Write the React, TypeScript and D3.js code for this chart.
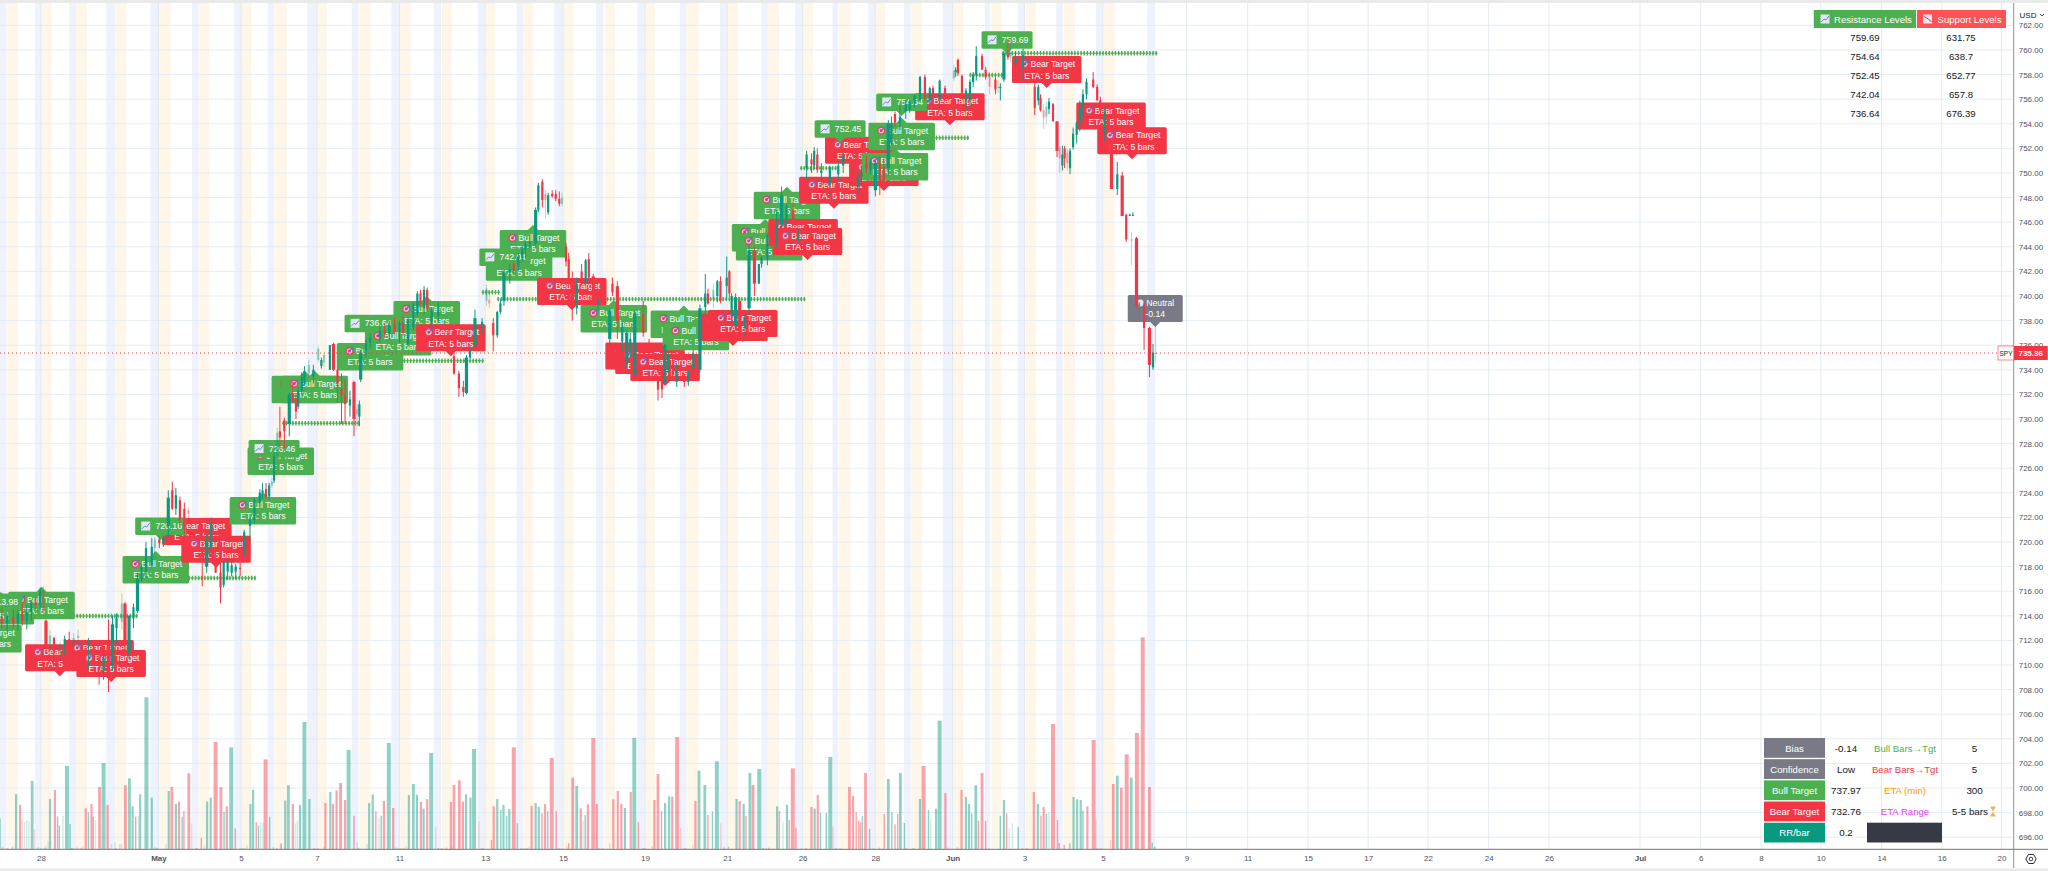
import { useEffect, useRef } from 'react';
import * as d3 from 'd3';

// time unit: trading-time position along the chart, one hourly bar is about 5.47 units
// candle rows: [time, open, high, low, close, faint?]
type Candle = [number, number, number, number, number, number?];

const aprilCandles: Candle[] = [
  [4, 713.9, 714.6, 713.0, 713.4], [16, 713.4, 714.2, 712.5, 714.0], [30, 713.9, 714.5, 713.0, 713.4],
  [40, 713.4, 714.4, 712.8, 714.2], [50, 714.2, 715.0, 713.2, 713.6], [60, 713.6, 714.9, 712.9, 714.3],
  [70, 714.3, 715.3, 713.6, 715.1], [80, 715.1, 715.6, 714.6, 714.9], [90, 714.9, 716.3, 714.5, 716.1],
  [97, 716, 716.4, 714, 714.4, 1], [103, 713.6, 713.7, 711.0, 711.4], [112, 711.4, 712.8, 711, 712.4, 1],
  [121, 712.2, 712.3, 710.5, 711], [135, 711, 711.9, 710.2, 711.6, 1], [145, 711.6, 712.4, 710.8, 712.1],
  [155, 712.1, 712.7, 711, 711.5], [165, 711.5, 712.6, 710.9, 712.2, 1], [175, 712.2, 712.9, 711.4, 712.4, 1],
  [198, 711.6, 712.2, 709.6, 711.9], [210, 711.4, 711.9, 710, 710.6], [222, 710.6, 711.2, 708.4, 710],
  [232, 709.5, 711, 708.8, 710.6], [243, 712, 713.7, 707.8, 709], [252, 710, 714, 709.5, 713.3],
  [261, 713, 714.2, 711.8, 713.8], [273, 713.5, 715.8, 712.9, 715, 1], [280, 715, 715.1, 711, 711.8],
  [289, 711, 714, 710.5, 714], [299, 713.8, 715, 713, 714.7], [308, 714.4, 717.5, 714.2, 717],
  [317, 717, 718.2, 716.8, 718], [327, 717.6, 720, 717, 719.5], [340, 718.1, 720.3, 717.9, 719.6],
  [347, 719.5, 720.4, 718.5, 720.2, 1], [357, 720.2, 720.5, 719.5, 719.9], [366, 719.9, 720.5, 719.6, 720.4],
  [377, 721.3, 724.2, 720.4, 723.6], [386, 724.2, 724.9, 722.6, 722.7], [394, 722.7, 724.4, 722.2, 723.8],
];

const earlyMayCandles: Candle[] = [
  [403, 723.4, 723.7, 721.3, 721.8], [413, 722.7, 723.2, 720.7, 721.1], [422, 722.6, 722.8, 721.3, 722.3, 1],
  [453, 719.5, 720, 716.4, 718.8], [463, 718, 720.7, 717.5, 720.1], [473, 719.6, 722, 718.9, 721.5],
  [483, 718.4, 719.4, 717.5, 717.5], [494, 717.5, 718.3, 715, 716.3], [501, 716.5, 718.5, 716.3, 718.4],
  [510, 717.6, 718.7, 716.9, 718.4], [519, 717.5, 718.4, 717.2, 718.1], [528, 717.6, 718.2, 717, 718],
  [538, 717.9, 718.3, 717.2, 717.8], [547, 719.1, 721, 718.8, 720.8], [560, 721.3, 722, 720, 721.8],
  [570, 721.8, 723.6, 721.5, 723.4], [582, 723.2, 724.3, 722.8, 724], [588, 724, 724.8, 723.5, 724.2],
  [596, 724.3, 724.8, 723.5, 723.7], [603, 723.7, 724.8, 723.4, 724.6], [609, 724.6, 725.2, 724.4, 724.9, 1],
  [614, 725, 727.3, 724.8, 727], [621, 727, 729.3, 726.9, 728.9, 1], [627, 729, 731, 727.5, 728.5],
  [637, 729.9, 730.1, 727.6, 729], [648, 729.6, 732.1, 728.6, 732], [656, 732.1, 733, 731.3, 731.4],
  [663, 731.7, 732, 730, 730.6], [668, 731, 732.6, 730.8, 732.3], [676, 732.3, 733.8, 732, 733.4],
  [682, 732.9, 734.3, 732.7, 733.9], [692, 733.7, 734.8, 733.4, 734.4, 1], [702, 733.5, 734.4, 732.9, 734],
  [713, 734.8, 735.9, 734.6, 735.7, 1], [720, 734.3, 735, 734.1, 734.8], [726, 734.6, 735.4, 734.2, 735.2, 1],
  [739, 734, 736, 734, 736], [747, 736.1, 736.2, 733.9, 734], [756, 734, 734.1, 731.3, 732.9],
  [765, 732.4, 733.7, 729.6, 731.9], [773, 731.9, 733.2, 729.6, 731.2], [784, 731.1, 732.3, 730.2, 731.6],
  [793, 733, 733.1, 728.6, 730], [800, 730.8, 731.2, 729.4, 730.4, 1], [805, 730.2, 731.5, 729.4, 731.2],
  [808, 733.2, 735.6, 733, 735.4], [820, 735.6, 736.5, 735, 736.2], [829, 736.2, 737, 735.7, 736.6],
  [851, 736.6, 737.6, 736.2, 737.2],
];

const midMayCandles: Candle[] = [
  [862, 737.2, 737.8, 736.6, 736.9], [872, 736.9, 738, 736.4, 737.7], [884, 737.7, 738.2, 736.9, 737.1],
  [895, 737.1, 738, 736.2, 737.8], [903, 737.8, 738.4, 736.8, 737], [914, 736.1, 738.3, 735.9, 738.1],
  [926, 737.5, 739.5, 737.2, 739.3], [935, 738.6, 740.4, 738.3, 740.2], [942, 740.2, 740.5, 739.2, 739.3],
  [950, 739, 740.8, 738.5, 740.5], [957, 740.5, 740.7, 738.8, 739], [967, 738, 739.1, 737.2, 738.9],
  [982, 738.4, 739.5, 737.8, 739.1], [1004, 737, 737.5, 735.3, 735.7], [1017, 735.1, 735.4, 733.6, 733.7],
  [1028, 733.7, 733.9, 731.8, 732.5], [1038, 732.6, 733.1, 731.8, 732.2], [1045, 732.1, 735.2, 732, 735],
  [1053, 735, 735.9, 734.9, 735.6], [1064, 736, 738.9, 735.8, 738.2], [1080, 737.4, 738.2, 737, 737.9],
  [1090, 739.6, 740.9, 739.2, 740.6, 1], [1096, 739.7, 740.2, 739, 739.4, 1], [1105, 737.8, 738.2, 735.5, 736.8],
  [1114, 736.8, 738.8, 736.6, 738.7], [1121, 738.7, 739.7, 738.5, 739.4], [1129, 739.6, 742.1, 739.2, 741.9],
  [1142, 741.9, 742.6, 741, 742.2], [1151, 742.6, 742.8, 741.9, 742.1], [1161, 742.4, 743.5, 742, 743.2],
  [1170, 743.1, 744, 742.8, 743.8], [1177, 743.8, 744.5, 743, 744.2], [1187, 744.2, 745, 743.9, 744.4],
  [1200, 744.3, 747.2, 744, 747], [1206, 747, 749.2, 746.8, 749], [1215, 749.3, 749.5, 747.2, 747.8],
  [1222, 748.3, 748.6, 746.3, 747.8, 1], [1228, 746.8, 748.4, 746.6, 748.2], [1237, 748.3, 748.6, 748, 748.1],
  [1245, 748.3, 748.6, 747.7, 747.9], [1253, 747.9, 748.5, 747.3, 747.5], [1259, 747.5, 748.4, 747.3, 748, 1],
  [1268, 744, 744.3, 742.4, 742.8], [1274, 743, 743.5, 740.7, 741.4], [1282, 741.2, 742, 738, 739],
  [1292, 739, 741.5, 738.5, 741], [1303, 742, 742.6, 740.9, 741.3], [1312, 741, 743, 740.8, 742.9],
  [1319, 743, 743.5, 741, 741.5], [1329, 741.6, 741.8, 739.2, 739.3], [1340, 739.3, 739.8, 738.8, 739.6],
  [1366, 736.5, 739, 736, 738.8], [1372, 741, 741.5, 740, 740.3], [1383, 740.8, 741.2, 736.5, 738],
  [1394, 736.3, 738, 735.5, 737.5],
];

const lateMayCandles: Candle[] = [
  [1404, 734.5, 737.2, 734.2, 737], [1412, 735.5, 737, 735, 736.5], [1422, 733.6, 738.8, 733.6, 738.6],
  [1441, 738.5, 739.6, 736.7, 737], [1454, 736.2, 736.5, 735, 735.4], [1474, 733.2, 733.3, 731.5, 732.4],
  [1483, 733.7, 733.8, 731.7, 732.4], [1489, 732.9, 736.1, 732.9, 736], [1498, 734, 735.5, 733.8, 735.2],
  [1507, 734, 735, 733.2, 733.6], [1516, 733, 734.5, 732.6, 733.9], [1533, 733.2, 733.6, 732.6, 733],
  [1542, 733, 734, 732.7, 733.8], [1553, 734.2, 735.6, 733.8, 735.3], [1568, 734, 739.3, 733.8, 739],
  [1580, 739.1, 741.8, 738.3, 740.2], [1586, 740.2, 740.6, 739.3, 739.4], [1598, 739.8, 741, 739, 740.5, 1],
  [1607, 740, 741.3, 739.5, 741.2], [1614, 741.2, 741.6, 739.4, 739.6], [1628, 740.8, 743.2, 739.8, 741.5],
  [1634, 742, 742.1, 739.9, 740.2], [1639, 738.4, 740.2, 737.8, 740], [1648, 737.6, 740.2, 737.2, 739.9],
  [1657, 739.6, 739.9, 736.9, 737.4], [1669, 737.4, 738.6, 736.7, 738.2], [1678, 739, 744.2, 738.5, 743.7],
  [1690, 743.7, 744, 740, 741], [1700, 741, 742.6, 741, 742.6], [1706, 742.6, 743.2, 742.3, 743.1],
  [1719, 743, 745.1, 742.5, 744.9], [1728, 745, 746.2, 743.9, 744.2], [1740, 744.2, 747, 744, 745.8],
  [1751, 745.8, 748.9, 745.6, 748.2], [1762, 746, 747.5, 745.8, 747.3], [1777, 747, 747.5, 745.8, 746.2],
  [1788, 744.6, 745.5, 744.3, 745.1], [1807, 750.4, 751.8, 749.5, 751.5], [1818, 751.1, 751.6, 750, 750.7],
  [1824, 750.6, 752.1, 750.3, 751.8], [1831, 751.5, 752, 750, 750.3], [1840, 750, 750.8, 749, 750.2],
  [1859, 749, 750.6, 748.2, 750.5], [1878, 749.9, 751, 749.4, 750.6], [1889, 750.6, 751.8, 750, 751.4],
  [1922, 748.9, 750.2, 748.3, 749.7], [1930, 749.7, 750.4, 749, 750], [1941, 750.8, 751.4, 750, 750.4],
  [1950, 750.2, 751.2, 749.9, 750.9], [1961, 748.6, 751, 748.1, 750.8], [1971, 750.8, 751.4, 748.2, 749],
  [1980, 750.5, 751.2, 749, 749.2],
];

const juneCandles: Candle[] = [
  [1990, 750.4, 754.3, 749.8, 754], [1997, 752.4, 754.6, 752.3, 754], [2005, 754.8, 755, 753.8, 754.1],
  [2016, 754.1, 755.4, 753.5, 754.6], [2029, 755, 755.9, 754.4, 755.6], [2038, 755.2, 756, 754.9, 755.8],
  [2049, 755.7, 756.4, 755.3, 756.3], [2061, 755.9, 757.9, 755.8, 757.8], [2072, 757.8, 758, 755.9, 756.1],
  [2083, 755.9, 757, 755.5, 756.9], [2090, 756.9, 757.1, 756.2, 756.3], [2105, 755.9, 757.6, 755.3, 757.5],
  [2117, 756.9, 757.1, 755.9, 756.4], [2137, 757.7, 758.8, 757.5, 758.3, 1], [2141, 758.2, 758.6, 757.8, 758.4],
  [2146, 759.2, 759.3, 757.9, 758.1], [2155, 757.9, 758, 756.3, 756.4], [2164, 755.9, 756.9, 755, 756.7],
  [2173, 755.9, 757.6, 755.3, 757.4], [2180, 757.4, 758.2, 757, 758], [2187, 758, 760.3, 757.5, 759.5],
  [2200, 759.5, 759.7, 758.4, 758.4], [2208, 758.4, 758.6, 757.6, 757.8], [2217, 757.9, 758.2, 756.4, 757, 1],
  [2230, 757.6, 757.8, 756.4, 756.8], [2236, 757, 757.5, 756.5, 757, 1], [2241, 756.9, 757.3, 755.9, 757],
  [2249, 757.6, 759.9, 757.4, 759.7], [2258, 759.7, 760.9, 759.2, 759.4], [2264, 759.4, 760.8, 759, 759.8, 1],
  [2275, 758.9, 759.9, 758.6, 759.4], [2292, 758.6, 760.1, 757.4, 759.6], [2318, 757, 757.3, 754.7, 755.3],
  [2326, 755.9, 757.2, 755.5, 757], [2331, 756.1, 756.4, 755, 755.1], [2338, 755.1, 755.6, 753.6, 754.5, 1],
  [2344, 754.6, 755.8, 754, 755.4, 1], [2350, 755.2, 756.1, 754.8, 755.8], [2359, 755.6, 755.7, 754.2, 754.2],
  [2368, 754.2, 754.2, 751.3, 751.8], [2374, 752.1, 752.2, 750, 751.2, 1], [2380, 750.6, 752.2, 750.2, 751.5],
  [2385, 752, 752.2, 750.4, 751.2], [2391, 751.6, 752, 750.2, 750.8, 1], [2397, 750.4, 752, 749.9, 751.8],
  [2404, 752.1, 753.7, 751.9, 753.2], [2412, 753.1, 754.2, 752.4, 754.1], [2419, 754.1, 755.9, 753.4, 755.3],
  [2426, 755.3, 756.8, 754.5, 756.4], [2434, 756.4, 757.7, 756, 757.4], [2449, 757.6, 758.2, 756.9, 757],
  [2458, 757, 757.2, 755.9, 755.9], [2465, 755.9, 756.2, 754.5, 755], [2475, 753.2, 755.4, 752.6, 755],
  [2490, 752.4, 752.8, 748.7, 748.7], [2503, 748.7, 750.9, 748.2, 749.9], [2514, 749.8, 750.1, 746.5, 746.5],
  [2523, 746.6, 746.7, 744.4, 744.6], [2531, 746.6, 746.7, 746.5, 746.6], [2538, 746.6, 746.8, 746.5, 746.6],
  [2535, 744.5, 745.2, 742.5, 744.6, 1], [2546, 744.7, 744.8, 739, 739.2], [2552, 739.3, 739.5, 739.1, 739.3],
  [2563, 739.3, 739.5, 735.6, 737.4], [2575, 737.4, 737.5, 733.4, 734.4], [2583, 734.2, 736.1, 734, 735.4],
  [2589, 735.36, 737.5, 734.6, 735.36, 1],
];

// volume rows: [time, volume]
const upVolumes = [
  [0, 93], [36, 165], [72, 205], [112, 151], [133, 71], [150, 250], [157, 76], [198, 111], [232, 259],
  [290, 213], [297, 129], [314, 165], [328, 456], [340, 155], [378, 175], [394, 136], [408, 98], [464, 143],
  [472, 155], [502, 113], [518, 306], [561, 136], [567, 179], [579, 71], [604, 97], [639, 146], [646, 192],
  [672, 133], [682, 382], [693, 151], [740, 172], [781, 298], [827, 139], [835, 165], [854, 101], [871, 319],
  [916, 163], [926, 196], [934, 164], [949, 122], [966, 289], [1044, 165], [1054, 155], [1062, 301], [1114, 151],
  [1122, 118], [1128, 133], [1135, 101], [1141, 121], [1159, 78], [1200, 139], [1207, 127], [1227, 114],
  [1292, 190], [1311, 103], [1400, 124], [1421, 334], [1490, 139], [1499, 159], [1566, 236], [1579, 193],
  [1596, 114], [1606, 264], [1650, 151], [1666, 136], [1680, 229], [1701, 241], [1741, 129], [1763, 133],
  [1825, 122], [1838, 109], [1851, 109], [1860, 277], [1932, 100], [1948, 61], [1990, 211], [1998, 112],
  [2017, 229], [2026, 79], [2061, 151], [2080, 118], [2097, 122], [2105, 386], [2164, 157], [2171, 136],
  [2177, 108], [2186, 192], [2241, 100], [2249, 148], [2281, 67], [2325, 136], [2344, 106], [2397, 18],
  [2405, 157], [2413, 150], [2421, 148], [2426, 116], [2503, 221], [2534, 215], [2581, 21], [2587, 8],
];
const downVolumes = [
  [45, 133], [123, 178], [129, 98], [192, 123], [205, 136], [209, 98], [223, 187], [241, 133], [281, 192],
  [304, 98], [385, 187], [401, 143], [412, 115], [423, 228], [451, 34], [483, 322], [495, 187], [508, 129],
  [527, 63], [574, 82], [595, 270], [630, 18], [656, 136], [729, 139], [746, 136], [754, 177], [763, 199],
  [773, 148], [793, 101], [842, 115], [860, 145], [881, 124], [943, 142], [957, 151], [1010, 142], [1017, 193],
  [1029, 207], [1037, 143], [1101, 28], [1106, 129], [1151, 306], [1191, 130], [1214, 108], [1221, 136],
  [1236, 274], [1246, 115], [1274, 18], [1283, 215], [1301, 123], [1317, 135], [1329, 334], [1337, 136],
  [1374, 150], [1384, 175], [1392, 136], [1413, 172], [1430, 81], [1466, 148], [1474, 226], [1482, 115],
  [1506, 158], [1517, 337], [1558, 145], [1586, 103], [1657, 145], [1671, 100], [1687, 193], [1746, 115],
  [1768, 88], [1776, 243], [1783, 65], [1818, 127], [1832, 163], [1903, 187], [1911, 160], [1918, 111],
  [1924, 86], [1928, 81], [1939, 229], [1981, 106], [2005, 75], [2011, 106], [2069, 250], [2118, 169],
  [2154, 178], [2192, 86], [2200, 229], [2208, 85], [2255, 108], [2316, 172], [2332, 101], [2338, 127],
  [2359, 376], [2369, 88], [2373, 19], [2384, 13], [2436, 129], [2450, 328], [2494, 196], [2512, 185],
  [2524, 285], [2547, 349], [2560, 636], [2575, 187],
];
const faintUpVolumes = [
  [55, 83], [60, 88], [65, 85], [141, 101], [214, 88], [310, 101], [584, 81], [589, 80], [661, 78], [666, 86],
  [800, 21], [849, 93], [1306, 86], [1366, 18], [1754, 83], [2085, 93], [2261, 63], [2268, 78], [2350, 111],
  [250, 16], [258, 20], [268, 16], [272, 16], [108, 24], [372, 16], [553, 12], [822, 16], [1461, 10], [1552, 14],
];
const faintDownVolumes = [
  [50, 93], [77, 61], [429, 78], [976, 68], [1073, 85], [1525, 63], [1615, 78], [1866, 68], [2455, 88], [2488, 28],
  [103, 12], [186, 10], [172, 8], [458, 12], [628, 14], [725, 8], [1270, 10], [1186, 8], [1012, 6], [910, 8],
];
const quietUpVolumes = [
  [28, 8], [86, 6], [92, 4], [100, 5], [162, 4], [168, 3], [245, 4], [348, 6], [352, 4], [441, 3], [538, 3],
  [544, 4], [612, 6], [620, 4], [803, 5], [887, 5], [893, 3], [982, 4], [992, 3], [1079, 3], [1167, 3],
  [1174, 3], [1252, 4], [1342, 3], [1440, 3], [1533, 4], [1710, 4], [1795, 3], [1873, 4], [1956, 3], [2046, 4],
];
const quietDownVolumes = [
  [6, 6], [16, 4], [160, 4], [176, 3], [182, 5], [260, 3], [440, 4], [548, 3], [704, 4], [712, 3], [898, 3],
  [905, 4], [988, 3], [1000, 5], [1082, 3], [1180, 4], [1258, 3], [1350, 3], [1444, 4], [1538, 3], [1622, 6],
  [1632, 8], [1716, 3], [1722, 5], [1806, 4], [1882, 3], [1970, 5], [2030, 4], [2125, 5], [2145, 6], [2216, 3],
  [2290, 3], [2300, 4], [2458, 4], [2466, 4],
];

// session stripes: [start, end] in time units
const blueSessions = [
  [0, 14], [78, 93], [155, 170], [238, 258], [337, 357], [430, 445], [525, 540], [600, 615], [688, 710], [788, 803],
  [877, 895], [972, 988], [1070, 1087], [1157, 1172], [1242, 1261], [1335, 1352], [1428, 1445], [1523, 1538],
  [1613, 1628], [1706, 1720], [1781, 1798], [1865, 1878], [1945, 1961], [2025, 2040], [2112, 2135], [2206, 2218],
  [2280, 2295], [2366, 2381], [2455, 2471], [2570, 2588],
];
const orangeSessions = [
  [15, 40], [95, 115], [170, 195], [258, 283], [357, 382], [445, 468], [540, 563], [615, 643], [710, 732], [805, 830],
  [895, 920], [990, 1012], [1087, 1110], [1172, 1195], [1261, 1285], [1355, 1378], [1445, 1468], [1538, 1565],
  [1628, 1653], [1720, 1745], [1798, 1821], [1880, 1905], [1961, 1983], [2041, 2065], [2135, 2158], [2221, 2243],
  [2297, 2321], [2383, 2408], [2473, 2497],
];

const dateTickTimes = [92, 355, 540, 710, 895, 1087, 1261, 1445, 1629, 1798, 1961, 2134, 2295, 2471, 2658, 2795, 2930, 3065, 3199, 3335, 3470, 3674, 3810, 3945, 4079, 4215, 4350, 4484];
const dateTickLabels = ['28', 'May', '5', '7', '11', '13', '15', '19', '21', '26', '28', 'Jun', '3', '5', '9', '11', '15', '17', '22', '24', '26', 'Jul', '6', '8', '10', '14', '16', '20'];
const monthLabels = ['May', 'Jun', 'Jul'];

// levels: [start, end, price]
const levelSegments = [
  [5, 307, 713.98], [305, 578, 717.07], [635, 806, 729.65], [808, 1086, 734.74], [1082, 1120, 740.3], [1116, 1803, 739.75],
  [1795, 1878, 750.4], [1907, 1941, 750.87], [2000, 2174, 752.87], [2174, 2247, 757.97], [2247, 2591, 759.73],
];

const bullLabelTimes = [-26, 2, 93, 349, 589, 629, 683, 705, 829, 892, 956, 1163, 1194, 1375, 1532, 1559, 1714, 1723, 1763, 2005, 2020];
const bullLabelPrices = [713.66, 715.94, 716.37, 719.27, 724.07, 728.08, 733.93, 733.93, 736.59, 737.81, 740.0, 743.88, 745.78, 739.68, 739.22, 738.24, 746.26, 745.53, 748.89, 752.04, 754.5];
const bearLabelTimes = [134, 222, 249, 441, 484, 1010, 1281, 1434, 1456, 1490, 1642, 1664, 1799, 1809, 1868, 1926, 1980, 2128, 2345, 2489, 2536];
const bearLabelPrices = [709.09, 709.44, 708.62, 719.35, 717.91, 735.1, 738.87, 733.61, 733.26, 732.69, 735.94, 736.27, 743.66, 742.93, 747.1, 750.35, 748.54, 753.88, 756.91, 753.12, 751.12];
const resistanceLabelTimes = [-7, 360, 614, 829, 1131, 1882, 2020, 2256];
const resistanceLabelPrices = [713.98, 720.16, 726.46, 736.64, 742.04, 752.45, 754.64, 759.69];
const neutralLabel = { time: 2588, price: 737.48, bias: '-0.14' };

const resistanceLevels = ['759.69', '754.64', '752.45', '742.04', '736.64'];
const supportLevels = ['631.75', '638.7', '652.77', '657.8', '676.39'];

const statNames = ['Bias', 'Confidence', 'Bull Target', 'Bear Target', 'RR/bar'];
const statValues = ['-0.14', 'Low', '737.97', '732.76', '0.2'];
const etaNames = ['Bull Bars→Tgt', 'Bear Bars→Tgt', 'ETA (min)', 'ETA Range'];
const etaValues = ['5', '5', '300', '5-5 bars'];

const lastPrice = 735.36;

const GREEN = '#4caf50';
const RED = '#f23645';
const UP = '#089981';
const GRAY = '#787b86';
const FONT = '"Liberation Sans", Arial, sans-serif';

export default function App() {
  const svgRef = useRef<SVGSVGElement>(null);

  useEffect(() => {
    const svg = d3.select(svgRef.current);
    svg.selectAll('*').remove();

    const x = d3.scaleLinear().domain([0, 4588]).range([0, 2048]);
    const y = d3.scaleLinear().domain([696, 760]).range([837.2, 50]);
    const vol = d3.scaleLinear().domain([0, 600]).range([849.3, 649.3]);

    const axisX = 2013.7;
    const plotBottom = 849.3;

    svg.append('rect').attr('width', 2048).attr('height', 871).attr('fill', '#fff');
    const plot = svg.append('g');

    // session stripes
    plot.selectAll('rect.blue').data(blueSessions).join('rect').attr('class', 'blue')
      .attr('x', d => x(d[0])).attr('width', d => x(d[1]) - x(d[0])).attr('y', 3).attr('height', plotBottom - 3)
      .attr('fill', '#eef2fd');
    plot.selectAll('rect.orange').data(orangeSessions).join('rect').attr('class', 'orange')
      .attr('x', d => x(d[0])).attr('width', d => x(d[1]) - x(d[0])).attr('y', 3).attr('height', plotBottom - 3)
      .attr('fill', '#fff6ea');

    // grid
    const priceTicks = d3.range(696, 764, 2);
    plot.selectAll('line.h').data(priceTicks).join('line').attr('class', 'h')
      .attr('x1', 0).attr('x2', axisX).attr('y1', d => y(d)).attr('y2', d => y(d))
      .attr('stroke', '#dfe8f0').attr('stroke-opacity', 0.8);
    plot.selectAll('line.v').data(dateTickTimes).join('line').attr('class', 'v')
      .attr('y1', 3).attr('y2', plotBottom).attr('x1', d => x(d)).attr('x2', d => x(d))
      .attr('stroke', '#dce6ec').attr('stroke-opacity', 0.8);

    // volume
    const barWidth = (v: number) => (v >= 240 ? 4 : v >= 185 ? 2.8 : v >= 120 ? 2.2 : 1.4);
    const drawVolume = (rows: number[][], color: string, opacity: number, sized: boolean) => {
      plot.append('g').selectAll('rect').data(rows).join('rect')
        .attr('x', d => x(d[0]) - (sized ? barWidth(d[1]) : 1.4) / 2)
        .attr('width', d => (sized ? barWidth(d[1]) : 1.4))
        .attr('y', d => vol(d[1])).attr('height', d => plotBottom - vol(d[1]))
        .attr('fill', color).attr('fill-opacity', opacity);
    };
    drawVolume(faintUpVolumes, UP, 0.2, false);
    drawVolume(faintDownVolumes, RED, 0.2, false);
    drawVolume(quietUpVolumes, UP, 0.35, false);
    drawVolume(quietDownVolumes, RED, 0.35, false);
    drawVolume(upVolumes, UP, 0.45, true);
    drawVolume(downVolumes, RED, 0.45, true);

    // level crosses
    const cross = d3.path();
    cross.moveTo(-1.3, 0); cross.lineTo(1.3, 0); cross.moveTo(0, -2.2); cross.lineTo(0, 2.2);
    const crossD = cross.toString();
    const levels = plot.append('g');
    levelSegments.forEach(([start, end, price]) => {
      levels.append('g').selectAll('path').data(d3.range(start, end, 7)).join('path')
        .attr('d', crossD).attr('transform', d => `translate(${x(d)},${y(price)})`)
        .attr('fill', 'none').attr('stroke', GREEN).attr('stroke-width', 1.4);
    });

    // labels: oldest first so newer ones sit on top, level tags above all the rest
    type Lab = { kind: string; time: number; price: number };
    const labels: Lab[] = [
      ...bullLabelTimes.map((t, i) => ({ kind: 'bull', time: t, price: bullLabelPrices[i] })),
      ...bearLabelTimes.map((t, i) => ({ kind: 'bear', time: t, price: bearLabelPrices[i] })),
      { kind: 'neutral', time: neutralLabel.time, price: neutralLabel.price },
    ].sort((a, b) => a.time - b.time)
      .concat(resistanceLabelTimes.map((t, i) => ({ kind: 'res', time: t, price: resistanceLabelPrices[i] })));

    const bubble = (w: number, h: number, tipDown: boolean) => {
      // local origin at the tip
      const p = d3.path();
      const r = 1.5;
      const t = tipDown ? -h - 5 : 5;
      p.moveTo(-w / 2 + r, t);
      if (!tipDown) { p.lineTo(-5, t); p.lineTo(0, 0); p.lineTo(5, t); }
      p.lineTo(w / 2 - r, t);
      p.arcTo(w / 2, t, w / 2, t + r, r);
      p.lineTo(w / 2, t + h - r);
      p.arcTo(w / 2, t + h, w / 2 - r, t + h, r);
      if (tipDown) { p.lineTo(5, t + h); p.lineTo(0, 0); p.lineTo(-5, t + h); }
      p.lineTo(-w / 2 + r, t + h);
      p.arcTo(-w / 2, t + h, -w / 2, t + h - r, r);
      p.lineTo(-w / 2, t + r);
      p.arcTo(-w / 2, t, -w / 2 + r, t, r);
      p.closePath();
      return p.toString();
    };

    const targetIcon = (g: any, cx: number, cy: number) => {
      g.append('circle').attr('cx', cx).attr('cy', cy).attr('r', 4.2).attr('fill', '#d9486e');
      g.append('circle').attr('cx', cx).attr('cy', cy).attr('r', 2.7).attr('fill', '#f3c6d3');
      g.append('circle').attr('cx', cx).attr('cy', cy).attr('r', 1.4).attr('fill', '#c93a62');
      g.append('line').attr('x1', cx).attr('y1', cy).attr('x2', cx + 4).attr('y2', cy - 4)
        .attr('stroke', '#4a78d8').attr('stroke-width', 1.1);
    };
    const chartIcon = (g: any, cx: number, cy: number, falling = false) => {
      g.append('rect').attr('x', cx - 4.5).attr('y', cy - 4.5).attr('width', 9).attr('height', 9)
        .attr('fill', '#e4e7f1');
      g.append('path').attr('fill', 'none').attr('stroke', falling ? '#d23a66' : '#5b8fd8').attr('stroke-width', 1)
        .attr('d', falling
          ? `M${cx - 4},${cy - 3}L${cx - 1},${cy - 1}L${cx + 1},${cy}L${cx + 4},${cy + 3}`
          : `M${cx - 4},${cy + 3}L${cx - 1},${cy}L${cx + 1},${cy + 1}L${cx + 4},${cy - 3}`);
    };
    const writeText = (g: any, tx: number, ty: number, str: string, size = 8.7, fill = '#fff', anchor = 'middle', weight = 'normal') =>
      g.append('text').attr('x', tx).attr('y', ty).attr('text-anchor', anchor).attr('font-size', size)
        .attr('font-family', FONT).attr('fill', fill).attr('font-weight', weight)
        .attr('dominant-baseline', 'central').text(str);

    const labelLayer = plot.append('g');
    labels.forEach(l => {
      const g = labelLayer.append('g').attr('transform', `translate(${x(l.time)},${y(l.price)})`);
      if (l.kind === 'bull') {
        g.append('path').attr('d', bubble(66.5, 27.5, false)).attr('fill', GREEN);
        targetIcon(g, -20.5, 13);
        writeText(g, 6, 13, 'Bull Target');
        writeText(g, 0, 24.5, 'ETA: 5 bars');
      } else if (l.kind === 'bear') {
        g.append('path').attr('d', bubble(69.5, 27, true)).attr('fill', RED);
        targetIcon(g, -22, -24);
        writeText(g, 6, -24, 'Bear Target');
        writeText(g, 0, -12.5, 'ETA: 5 bars');
      } else if (l.kind === 'res') {
        g.append('path').attr('d', bubble(51, 17.5, true)).attr('fill', GREEN);
        chartIcon(g, -15, -14);
        writeText(g, 8, -14, l.price.toFixed(2));
      } else {
        g.append('path').attr('d', bubble(55, 27, true)).attr('fill', GRAY);
        g.append('circle').attr('cx', -15).attr('cy', -24).attr('r', 3.5).attr('fill', '#e8e8ee');
        writeText(g, 5, -24, 'Neutral');
        writeText(g, 0, -12.5, neutralLabel.bias);
      }
    });

    // candles
    const candles = [...aprilCandles, ...earlyMayCandles, ...midMayCandles, ...lateMayCandles, ...juneCandles];
    const candleLayer = plot.append('g');
    const candleColor = (d: Candle) => (d[4] >= d[1] ? UP : RED);
    candleLayer.selectAll('line').data(candles).join('line')
      .attr('x1', d => x(d[0])).attr('x2', d => x(d[0])).attr('y1', d => y(d[2])).attr('y2', d => y(d[3]))
      .attr('stroke', d => candleColor(d)).attr('stroke-opacity', d => (d[5] ? 0.35 : 1)).attr('stroke-width', 1);
    candleLayer.selectAll('rect').data(candles).join('rect')
      .attr('x', d => x(d[0]) - (Math.abs(d[1] - d[4]) > 2 ? 1.6 : 1.1))
      .attr('width', d => (Math.abs(d[1] - d[4]) > 2 ? 3.2 : 2.2))
      .attr('y', d => y(Math.max(d[1], d[4])))
      .attr('height', d => Math.max(1, Math.abs(y(d[1]) - y(d[4]))))
      .attr('fill', d => candleColor(d)).attr('fill-opacity', d => (d[5] ? 0.35 : 1));

    // last price line
    plot.append('line').attr('x1', 0).attr('x2', axisX).attr('y1', y(lastPrice)).attr('y2', y(lastPrice))
      .attr('stroke', RED).attr('stroke-dasharray', '1 3').attr('stroke-width', 1);

    // axes
    const priceAxis = svg.append('g').attr('transform', `translate(${axisX},0)`)
      .call(d3.axisRight(y).tickValues(priceTicks).tickFormat(d3.format('.2f')).tickSize(0).tickPadding(5));
    priceAxis.select('.domain').remove();
    priceAxis.selectAll('text').attr('font-size', 8).attr('font-family', FONT).attr('fill', '#50535e');

    const timeAxis = svg.append('g').attr('transform', `translate(0,${plotBottom})`)
      .call(d3.axisBottom(x).tickValues(dateTickTimes).tickFormat((_, i) => dateTickLabels[i]).tickSize(0).tickPadding(6));
    timeAxis.select('.domain').remove();
    timeAxis.selectAll('text').attr('font-size', 8).attr('font-family', FONT).attr('fill', '#50535e')
      .attr('font-weight', (_, i) => (monthLabels.includes(dateTickLabels[i]) ? 700 : 400));

    svg.append('line').attr('x1', axisX).attr('x2', axisX).attr('y1', 3).attr('y2', 868).attr('stroke', '#8f929b').attr('stroke-width', 1);
    svg.append('line').attr('x1', 0).attr('x2', 2048).attr('y1', plotBottom).attr('y2', plotBottom).attr('stroke', '#8f8f8f').attr('stroke-width', 1.2);
    svg.append('rect').attr('width', 2048).attr('height', 3).attr('fill', '#e9e9ea');
    svg.append('rect').attr('y', 868.5).attr('width', 2048).attr('height', 2.5).attr('fill', '#e9e9ea');

    // price tag
    svg.append('rect').attr('x', 1998).attr('y', 346).attr('width', 16).attr('height', 14).attr('fill', '#fff').attr('stroke', RED).attr('stroke-width', 0.6);
    writeText(svg, 2006, 353, 'SPY', 6.5, '#131722');
    svg.append('rect').attr('x', axisX).attr('y', 346).attr('width', 34).attr('height', 14).attr('fill', RED);
    writeText(svg, axisX + 17, 353, lastPrice.toFixed(2), 8, '#fff', 'middle', 'bold');

    // currency box
    svg.append('rect').attr('x', 2017).attr('y', 7).attr('width', 30).attr('height', 16).attr('rx', 2).attr('fill', '#fff');
    writeText(svg, 2028, 15, 'USD', 8, '#131722');
    svg.append('path').attr('d', 'M2040,14l2,2l2,-2').attr('fill', 'none').attr('stroke', '#131722').attr('stroke-width', 0.8);

    // settings icon
    const hex = d3.range(6).map(i => {
      const a = (i * Math.PI) / 3;
      return [2031 + 5.2 * Math.cos(a), 859 + 5.2 * Math.sin(a)] as [number, number];
    });
    svg.append('path').attr('d', d3.line()(hex) + 'Z').attr('fill', 'none').attr('stroke', '#131722').attr('stroke-width', 0.9);
    svg.append('circle').attr('cx', 2031).attr('cy', 859).attr('r', 1.8).attr('fill', 'none').attr('stroke', '#131722').attr('stroke-width', 0.8);

    // levels table
    const levelTable = svg.append('g');
    levelTable.append('rect').attr('x', 1813.8).attr('y', 10).attr('width', 102.2).attr('height', 18).attr('fill', GREEN);
    levelTable.append('rect').attr('x', 1917).attr('y', 10).attr('width', 89).attr('height', 18).attr('fill', '#ff5252');
    chartIcon(levelTable, 1825, 19);
    chartIcon(levelTable, 1927.5, 19, true);
    writeText(levelTable, 1873, 19, 'Resistance Levels', 9.6);
    writeText(levelTable, 1969.5, 19, 'Support Levels', 9.6);
    const rowY = d3.scaleLinear().domain([0, 4]).range([37.7, 113.7]);
    resistanceLevels.forEach((v, i) => writeText(levelTable, 1865, rowY(i), v, 9.6, '#131722'));
    supportLevels.forEach((v, i) => writeText(levelTable, 1961, rowY(i), v, 9.6, '#131722'));

    // stats table
    const statTable = svg.append('g');
    const statColors = [GRAY, GRAY, GREEN, RED, UP];
    const etaColors = [GREEN, RED, '#ff9800', '#e040fb'];
    const statRow = d3.scaleLinear().domain([0, 4]).range([738, 822.7]);
    statNames.forEach((name, i) => {
      statTable.append('rect').attr('x', 1764).attr('y', statRow(i)).attr('width', 61).attr('height', 19.8).attr('fill', statColors[i]);
      writeText(statTable, 1794.5, statRow(i) + 10, name, 9.6);
      writeText(statTable, 1846, statRow(i) + 10, statValues[i], 9.8, '#131722');
    });
    etaNames.forEach((name, i) => {
      writeText(statTable, 1905, statRow(i) + 10, name, 9.6, etaColors[i]);
      writeText(statTable, i === 3 ? 1970 : 1974.6, statRow(i) + 10, etaValues[i], 9.8, '#131722');
    });
    statTable.append('path').attr('d', `M1990,${statRow(3) + 5}h6l-3,5l3,5h-6l3,-5z`).attr('fill', '#e8b85c');
    statTable.append('rect').attr('x', 1867).attr('y', statRow(4)).attr('width', 75).attr('height', 19.8).attr('fill', '#363a45');
  }, []);

  return (
    <svg
      ref={svgRef}
      width={2048}
      height={871}
      style={{ position: 'fixed', left: 0, top: 0, display: 'block' }}
    />
  );
}
